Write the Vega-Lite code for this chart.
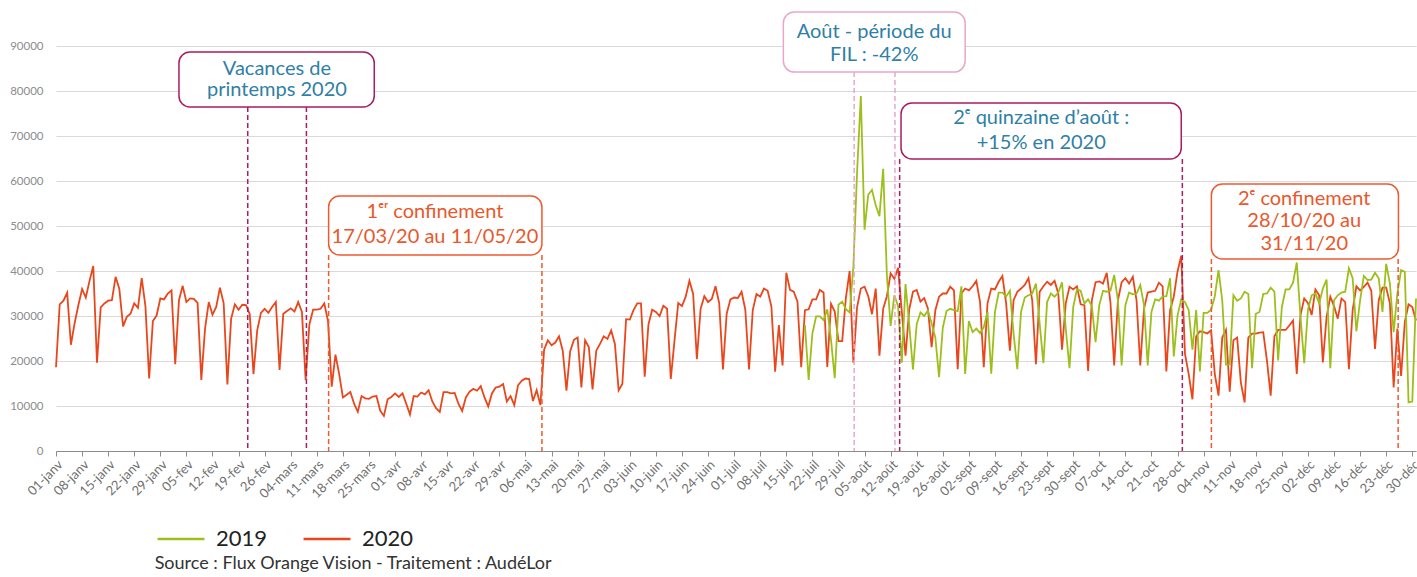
{
  "$schema": "https://vega.github.io/schema/vega-lite/v6.json",
  "autosize": {"type": "none"},
  "width": 1360,
  "height": 450,
  "padding": {"left": 56, "top": 1, "right": 1, "bottom": 126},
  "background": "white",
  "config": {"view": {"stroke": null}, "font": "Lato"},
  "title": {"text": "Source : Flux Orange Vision - Traitement : AudéLor", "orient": "bottom", "anchor": "start", "dx": 145, "offset": 5, "fontSize": 18, "fontWeight": "normal", "color": "#333333", "font": "Lato"},
  "datasets": {
    "ann_boxes": [
      {"g": "vac", "x1": "2020/02/03 00:00", "x2": "2020/03/26 10:00", "y1": 88660, "y2": 76440},
      {"g": "conf", "x1": "2020/03/14 04:00", "x2": "2020/05/10 10:00", "y1": 56660, "y2": 43550},
      {"g": "fil", "x1": "2020/07/14 05:00", "x2": "2020/09/01 00:00", "y1": 97550, "y2": 84200},
      {"g": "quinz", "x1": "2020/08/14 19:00", "x2": "2020/10/29 00:00", "y1": 77330, "y2": 64880},
      {"g": "conf", "x1": "2020/11/06 02:00", "x2": "2020/12/26 07:00", "y1": 59330, "y2": 42660}
    ],
    "ann_rules": [
      {"g": "vac", "x": "2020/02/21 11:00", "top": 76440},
      {"g": "vac", "x": "2020/03/08 05:00", "top": 76440},
      {"g": "conf", "x": "2020/03/14 04:00", "top": 43550},
      {"g": "conf", "x": "2020/05/10 10:00", "top": 43550},
      {"g": "fil", "x": "2020/08/02 05:00", "top": 84200},
      {"g": "fil", "x": "2020/08/13 04:00", "top": 84200},
      {"g": "quinz", "x": "2020/08/14 10:00", "top": 64880},
      {"g": "quinz", "x": "2020/10/29 07:00", "top": 64880},
      {"g": "conf", "x": "2020/11/06 02:00", "top": 42660},
      {"g": "conf", "x": "2020/12/26 05:00", "top": 42660}
    ],
    "ann_texts": [
      {"g": "vac", "x": "2020/02/29 07:00", "y": 84900, "t": "Vacances de"},
      {"g": "vac", "x": "2020/02/29 07:00", "y": 80200, "t": "printemps 2020"},
      {"g": "conf", "x": "2020/04/11 17:00", "y": 53100, "t": "1ᵉʳ confinement"},
      {"g": "conf", "x": "2020/04/11 17:00", "y": 47600, "t": "17/03/20 au 11/05/20"},
      {"g": "fil", "x": "2020/08/07 14:00", "y": 93100, "t": "Août - période du"},
      {"g": "fil", "x": "2020/08/07 14:00", "y": 88000, "t": "FIL : -42%"},
      {"g": "quinz", "x": "2020/09/21 10:00", "y": 74000, "t": "2ᵉ quinzaine d’août :"},
      {"g": "quinz", "x": "2020/09/21 10:00", "y": 68500, "t": "+15% en 2020"},
      {"g": "conf", "x": "2020/12/01 00:00", "y": 56100, "t": "2ᵉ confinement"},
      {"g": "conf", "x": "2020/12/01 00:00", "y": 51100, "t": "28/10/20 au"},
      {"g": "conf", "x": "2020/12/01 00:00", "y": 46000, "t": "31/11/20"}
    ],
    "series": [
      {"date": "2020/01/01", "2020": 18600}, {"date": "2020/01/02", "2020": 32600}, {"date": "2020/01/03", "2020": 33400}, {"date": "2020/01/04", "2020": 35150}, {"date": "2020/01/05", "2020": 23600}, {"date": "2020/01/06", "2020": 28400}, {"date": "2020/01/07", "2020": 32400}, {"date": "2020/01/08", "2020": 36000}, {"date": "2020/01/09", "2020": 34100}, {"date": "2020/01/10", "2020": 37800}, {"date": "2020/01/11", "2020": 41100}, {"date": "2020/01/12", "2020": 19600}, {"date": "2020/01/13", "2020": 31900}, {"date": "2020/01/14", "2020": 32800}, {"date": "2020/01/15", "2020": 33400}, {"date": "2020/01/16", "2020": 33500}, {"date": "2020/01/17", "2020": 38700}, {"date": "2020/01/18", "2020": 36000}, {"date": "2020/01/19", "2020": 27700}, {"date": "2020/01/20", "2020": 29800}, {"date": "2020/01/21", "2020": 30500}, {"date": "2020/01/22", "2020": 32800}, {"date": "2020/01/23", "2020": 31800}, {"date": "2020/01/24", "2020": 38400}, {"date": "2020/01/25", "2020": 32200}, {"date": "2020/01/26", "2020": 16100}, {"date": "2020/01/27", "2020": 28900}, {"date": "2020/01/28", "2020": 30100}, {"date": "2020/01/29", "2020": 33900}, {"date": "2020/01/30", "2020": 33700}, {"date": "2020/01/31", "2020": 35000},
      {"date": "2020/02/01", "2020": 35700}, {"date": "2020/02/02", "2020": 19300}, {"date": "2020/02/03", "2020": 33500}, {"date": "2020/02/04", "2020": 36700}, {"date": "2020/02/05", "2020": 33100}, {"date": "2020/02/06", "2020": 33900}, {"date": "2020/02/07", "2020": 33800}, {"date": "2020/02/08", "2020": 32900}, {"date": "2020/02/09", "2020": 15800}, {"date": "2020/02/10", "2020": 27200}, {"date": "2020/02/11", "2020": 33100}, {"date": "2020/02/12", "2020": 30300}, {"date": "2020/02/13", "2020": 32000}, {"date": "2020/02/14", "2020": 36300}, {"date": "2020/02/15", "2020": 32800}, {"date": "2020/02/16", "2020": 14800}, {"date": "2020/02/17", "2020": 29400}, {"date": "2020/02/18", "2020": 32600}, {"date": "2020/02/19", "2020": 31400}, {"date": "2020/02/20", "2020": 32500}, {"date": "2020/02/21", "2020": 32400}, {"date": "2020/02/22", "2020": 30400}, {"date": "2020/02/23", "2020": 17100}, {"date": "2020/02/24", "2020": 26800}, {"date": "2020/02/25", "2020": 30700}, {"date": "2020/02/26", "2020": 31600}, {"date": "2020/02/27", "2020": 30700}, {"date": "2020/02/28", "2020": 32000}, {"date": "2020/02/29", "2020": 33100},
      {"date": "2020/03/01", "2020": 18000}, {"date": "2020/03/02", "2020": 30500}, {"date": "2020/03/03", "2020": 31100}, {"date": "2020/03/04", "2020": 31700}, {"date": "2020/03/05", "2020": 31000}, {"date": "2020/03/06", "2020": 33100}, {"date": "2020/03/07", "2020": 30900}, {"date": "2020/03/08", "2020": 15800}, {"date": "2020/03/09", "2020": 28100}, {"date": "2020/03/10", "2020": 31400}, {"date": "2020/03/11", "2020": 31400}, {"date": "2020/03/12", "2020": 31600}, {"date": "2020/03/13", "2020": 32800}, {"date": "2020/03/14", "2020": 28900}, {"date": "2020/03/15", "2020": 14300}, {"date": "2020/03/16", "2020": 21400}, {"date": "2020/03/17", "2020": 17100}, {"date": "2020/03/18", "2020": 11900}, {"date": "2020/03/19", "2020": 12500}, {"date": "2020/03/20", "2020": 13100}, {"date": "2020/03/21", "2020": 10500}, {"date": "2020/03/22", "2020": 8700}, {"date": "2020/03/23", "2020": 12200}, {"date": "2020/03/24", "2020": 11700}, {"date": "2020/03/25", "2020": 11600}, {"date": "2020/03/26", "2020": 12100}, {"date": "2020/03/27", "2020": 12200}, {"date": "2020/03/28", "2020": 9000}, {"date": "2020/03/29", "2020": 7800}, {"date": "2020/03/30", "2020": 11500}, {"date": "2020/03/31", "2020": 12000},
      {"date": "2020/04/01", "2020": 12800}, {"date": "2020/04/02", "2020": 12000}, {"date": "2020/04/03", "2020": 12800}, {"date": "2020/04/04", "2020": 10500}, {"date": "2020/04/05", "2020": 8100}, {"date": "2020/04/06", "2020": 12200}, {"date": "2020/04/07", "2020": 12100}, {"date": "2020/04/08", "2020": 13000}, {"date": "2020/04/09", "2020": 12600}, {"date": "2020/04/10", "2020": 13500}, {"date": "2020/04/11", "2020": 11000}, {"date": "2020/04/12", "2020": 9500}, {"date": "2020/04/13", "2020": 8700}, {"date": "2020/04/14", "2020": 13100}, {"date": "2020/04/15", "2020": 13100}, {"date": "2020/04/16", "2020": 12800}, {"date": "2020/04/17", "2020": 12900}, {"date": "2020/04/18", "2020": 10500}, {"date": "2020/04/19", "2020": 8900}, {"date": "2020/04/20", "2020": 11900}, {"date": "2020/04/21", "2020": 13200}, {"date": "2020/04/22", "2020": 13800}, {"date": "2020/04/23", "2020": 13400}, {"date": "2020/04/24", "2020": 14400}, {"date": "2020/04/25", "2020": 11900}, {"date": "2020/04/26", "2020": 9900}, {"date": "2020/04/27", "2020": 12800}, {"date": "2020/04/28", "2020": 14100}, {"date": "2020/04/29", "2020": 14300}, {"date": "2020/04/30", "2020": 14900},
      {"date": "2020/05/01", "2020": 11000}, {"date": "2020/05/02", "2020": 12200}, {"date": "2020/05/03", "2020": 10200}, {"date": "2020/05/04", "2020": 14600}, {"date": "2020/05/05", "2020": 15600}, {"date": "2020/05/06", "2020": 16100}, {"date": "2020/05/07", "2020": 16000}, {"date": "2020/05/08", "2020": 11100}, {"date": "2020/05/09", "2020": 13500}, {"date": "2020/05/10", "2020": 10200}, {"date": "2020/05/11", "2020": 22500}, {"date": "2020/05/12", "2020": 24600}, {"date": "2020/05/13", "2020": 23500}, {"date": "2020/05/14", "2020": 24100}, {"date": "2020/05/15", "2020": 25500}, {"date": "2020/05/16", "2020": 22300}, {"date": "2020/05/17", "2020": 13400}, {"date": "2020/05/18", "2020": 22200}, {"date": "2020/05/19", "2020": 24700}, {"date": "2020/05/20", "2020": 25200}, {"date": "2020/05/21", "2020": 14100}, {"date": "2020/05/22", "2020": 24600}, {"date": "2020/05/23", "2020": 23100}, {"date": "2020/05/24", "2020": 13700}, {"date": "2020/05/25", "2020": 22300}, {"date": "2020/05/26", "2020": 23800}, {"date": "2020/05/27", "2020": 25500}, {"date": "2020/05/28", "2020": 24900}, {"date": "2020/05/29", "2020": 26800}, {"date": "2020/05/30", "2020": 23800}, {"date": "2020/05/31", "2020": 13500},
      {"date": "2020/06/01", "2020": 14900}, {"date": "2020/06/02", "2020": 29300}, {"date": "2020/06/03", "2020": 29200}, {"date": "2020/06/04", "2020": 31300}, {"date": "2020/06/05", "2020": 32800}, {"date": "2020/06/06", "2020": 32800}, {"date": "2020/06/07", "2020": 16500}, {"date": "2020/06/08", "2020": 28100}, {"date": "2020/06/09", "2020": 31400}, {"date": "2020/06/10", "2020": 30900}, {"date": "2020/06/11", "2020": 30000}, {"date": "2020/06/12", "2020": 32300}, {"date": "2020/06/13", "2020": 31600}, {"date": "2020/06/14", "2020": 16000}, {"date": "2020/06/15", "2020": 24600}, {"date": "2020/06/16", "2020": 32900}, {"date": "2020/06/17", "2020": 32200}, {"date": "2020/06/18", "2020": 34300}, {"date": "2020/06/19", "2020": 37800}, {"date": "2020/06/20", "2020": 34900}, {"date": "2020/06/21", "2020": 20400}, {"date": "2020/06/22", "2020": 31600}, {"date": "2020/06/23", "2020": 34400}, {"date": "2020/06/24", "2020": 33100}, {"date": "2020/06/25", "2020": 33800}, {"date": "2020/06/26", "2020": 36600}, {"date": "2020/06/27", "2020": 32800}, {"date": "2020/06/28", "2020": 18100}, {"date": "2020/06/29", "2020": 30500}, {"date": "2020/06/30", "2020": 33700},
      {"date": "2020/07/01", "2020": 34100}, {"date": "2020/07/02", "2020": 34000}, {"date": "2020/07/03", "2020": 35400}, {"date": "2020/07/04", "2020": 31400}, {"date": "2020/07/05", "2020": 18100}, {"date": "2020/07/06", "2020": 31300}, {"date": "2020/07/07", "2020": 34900}, {"date": "2020/07/08", "2020": 34300}, {"date": "2020/07/09", "2020": 36100}, {"date": "2020/07/10", "2020": 35600}, {"date": "2020/07/11", "2020": 32100}, {"date": "2020/07/12", "2020": 17600}, {"date": "2020/07/13", "2020": 28000}, {"date": "2020/07/14", "2020": 19000}, {"date": "2020/07/15", "2020": 39600}, {"date": "2020/07/16", "2020": 35800}, {"date": "2020/07/17", "2020": 35400}, {"date": "2020/07/18", "2020": 33200}, {"date": "2020/07/19", "2020": 18600},
      {"date": "2020/07/20", "2020": 31300, "2019": 28000}, {"date": "2020/07/21", "2020": 31500, "2019": 15800}, {"date": "2020/07/22", "2020": 33700, "2019": 26100}, {"date": "2020/07/23", "2020": 33700, "2019": 29900}, {"date": "2020/07/24", "2020": 35800, "2019": 29900}, {"date": "2020/07/25", "2020": 35200, "2019": 29100}, {"date": "2020/07/26", "2020": 18700, "2019": 31500}, {"date": "2020/07/27", "2020": 32700, "2019": 24700}, {"date": "2020/07/28", "2020": 31000, "2019": 16200}, {"date": "2020/07/29", "2020": 24400, "2019": 32500}, {"date": "2020/07/30", "2020": 24400, "2019": 33200}, {"date": "2020/07/31", "2020": 34100, "2019": 31500},
      {"date": "2020/08/01", "2020": 40000, "2019": 30800}, {"date": "2020/08/02", "2020": 19600, "2019": 41000}, {"date": "2020/08/03", "2020": 32000, "2019": 62000}, {"date": "2020/08/04", "2020": 36100, "2019": 78900}, {"date": "2020/08/05", "2020": 36500, "2019": 49200}, {"date": "2020/08/06", "2020": 34400, "2019": 57000}, {"date": "2020/08/07", "2020": 30400, "2019": 58000}, {"date": "2020/08/08", "2020": 36100, "2019": 54600}, {"date": "2020/08/09", "2020": 21200, "2019": 52200}, {"date": "2020/08/10", "2020": 31600, "2019": 62700}, {"date": "2020/08/11", "2020": 34400, "2019": 38900}, {"date": "2020/08/12", "2020": 39500, "2019": 27800}, {"date": "2020/08/13", "2020": 38300, "2019": 34600}, {"date": "2020/08/14", "2020": 40700, "2019": 32200}, {"date": "2020/08/15", "2020": 31000, "2019": 19600}, {"date": "2020/08/16", "2020": 21200, "2019": 37100}, {"date": "2020/08/17", "2020": 31500, "2019": 28000}, {"date": "2020/08/18", "2020": 35400, "2019": 18100}, {"date": "2020/08/19", "2020": 35800, "2019": 28200}, {"date": "2020/08/20", "2020": 33200, "2019": 30800}, {"date": "2020/08/21", "2020": 34000, "2019": 30000}, {"date": "2020/08/22", "2020": 31700, "2019": 31200}, {"date": "2020/08/23", "2020": 23100, "2019": 28400}, {"date": "2020/08/24", "2020": 31300, "2019": 25200}, {"date": "2020/08/25", "2020": 34300, "2019": 16400}, {"date": "2020/08/26", "2020": 35000, "2019": 27400}, {"date": "2020/08/27", "2020": 35000, "2019": 31100}, {"date": "2020/08/28", "2020": 36500, "2019": 31600}, {"date": "2020/08/29", "2020": 35700, "2019": 31300}, {"date": "2020/08/30", "2020": 18200, "2019": 31100}, {"date": "2020/08/31", "2020": 35000, "2019": 36600},
      {"date": "2020/09/01", "2020": 36100, "2019": 17100}, {"date": "2020/09/02", "2020": 35700, "2019": 28900}, {"date": "2020/09/03", "2020": 36600, "2019": 26400}, {"date": "2020/09/04", "2020": 37800, "2019": 27200}, {"date": "2020/09/05", "2020": 33100, "2019": 26200}, {"date": "2020/09/06", "2020": 18600, "2019": 27500}, {"date": "2020/09/07", "2020": 32800, "2019": 30900}, {"date": "2020/09/08", "2020": 36100, "2019": 17200}, {"date": "2020/09/09", "2020": 35900, "2019": 30900}, {"date": "2020/09/10", "2020": 37600, "2019": 35200}, {"date": "2020/09/11", "2020": 38900, "2019": 35200}, {"date": "2020/09/12", "2020": 32800, "2019": 34300}, {"date": "2020/09/13", "2020": 22300, "2019": 35600}, {"date": "2020/09/14", "2020": 33500, "2019": 26100}, {"date": "2020/09/15", "2020": 35400, "2019": 18200}, {"date": "2020/09/16", "2020": 36100, "2019": 30900}, {"date": "2020/09/17", "2020": 36900, "2019": 34100}, {"date": "2020/09/18", "2020": 38400, "2019": 34600}, {"date": "2020/09/19", "2020": 33500, "2019": 35000}, {"date": "2020/09/20", "2020": 19300, "2019": 37200}, {"date": "2020/09/21", "2020": 35400, "2019": 28300}, {"date": "2020/09/22", "2020": 36600, "2019": 19500}, {"date": "2020/09/23", "2020": 37600, "2019": 33100}, {"date": "2020/09/24", "2020": 36900, "2019": 35000}, {"date": "2020/09/25", "2020": 37800, "2019": 34300}, {"date": "2020/09/26", "2020": 35000, "2019": 35200}, {"date": "2020/09/27", "2020": 22500, "2019": 37500}, {"date": "2020/09/28", "2020": 32800, "2019": 27200}, {"date": "2020/09/29", "2020": 36500, "2019": 18400}, {"date": "2020/09/30", "2020": 35900, "2019": 32000},
      {"date": "2020/10/01", "2020": 36600, "2019": 35900}, {"date": "2020/10/02", "2020": 32600, "2019": 35600}, {"date": "2020/10/03", "2020": 32400, "2019": 32800}, {"date": "2020/10/04", "2020": 17800, "2019": 33700}, {"date": "2020/10/05", "2020": 33500, "2019": 32200}, {"date": "2020/10/06", "2020": 37500, "2019": 24200}, {"date": "2020/10/07", "2020": 37700, "2019": 32400}, {"date": "2020/10/08", "2020": 37200, "2019": 35600}, {"date": "2020/10/09", "2020": 39600, "2019": 35400}, {"date": "2020/10/10", "2020": 33000, "2019": 35600}, {"date": "2020/10/11", "2020": 19000, "2019": 39100}, {"date": "2020/10/12", "2020": 33500, "2019": 33500}, {"date": "2020/10/13", "2020": 37500, "2019": 19000}, {"date": "2020/10/14", "2020": 38400, "2019": 32400}, {"date": "2020/10/15", "2020": 37200, "2019": 35200}, {"date": "2020/10/16", "2020": 38700, "2019": 34800}, {"date": "2020/10/17", "2020": 33500, "2019": 35000}, {"date": "2020/10/18", "2020": 19000, "2019": 36900}, {"date": "2020/10/19", "2020": 31600, "2019": 32400}, {"date": "2020/10/20", "2020": 35200, "2019": 19000}, {"date": "2020/10/21", "2020": 35400, "2019": 30900}, {"date": "2020/10/22", "2020": 35600, "2019": 33700}, {"date": "2020/10/23", "2020": 37400, "2019": 33400}, {"date": "2020/10/24", "2020": 36600, "2019": 34300}, {"date": "2020/10/25", "2020": 17700, "2019": 34400}, {"date": "2020/10/26", "2020": 31300, "2019": 38400}, {"date": "2020/10/27", "2020": 34300, "2019": 21000}, {"date": "2020/10/28", "2020": 39900, "2019": 30100}, {"date": "2020/10/29", "2020": 43400, "2019": 33700}, {"date": "2020/10/30", "2020": 21600, "2019": 33100}, {"date": "2020/10/31", "2020": 17100, "2019": 31300},
      {"date": "2020/11/01", "2020": 11500, "2019": 22500}, {"date": "2020/11/02", "2020": 25500, "2019": 31300}, {"date": "2020/11/03", "2020": 26600, "2019": 17700}, {"date": "2020/11/04", "2020": 26400, "2019": 30700}, {"date": "2020/11/05", "2020": 26100, "2019": 30700}, {"date": "2020/11/06", "2020": 26800, "2019": 31400}, {"date": "2020/11/07", "2020": 17100, "2019": 34400}, {"date": "2020/11/08", "2020": 12300, "2019": 40200}, {"date": "2020/11/09", "2020": 25200, "2019": 33500}, {"date": "2020/11/10", "2020": 26900, "2019": 19200}, {"date": "2020/11/11", "2020": 13200, "2019": 19200}, {"date": "2020/11/12", "2020": 24600, "2019": 34600}, {"date": "2020/11/13", "2020": 25200, "2019": 33400}, {"date": "2020/11/14", "2020": 15200, "2019": 33900}, {"date": "2020/11/15", "2020": 10800, "2019": 35400}, {"date": "2020/11/16", "2020": 25200, "2019": 34900}, {"date": "2020/11/17", "2020": 26100, "2019": 18400}, {"date": "2020/11/18", "2020": 26100, "2019": 30500}, {"date": "2020/11/19", "2020": 26300, "2019": 30900}, {"date": "2020/11/20", "2020": 26400, "2019": 34900}, {"date": "2020/11/21", "2020": 20100, "2019": 35000}, {"date": "2020/11/22", "2020": 12300, "2019": 36300}, {"date": "2020/11/23", "2020": 25500, "2019": 35400}, {"date": "2020/11/24", "2020": 26900, "2019": 20100}, {"date": "2020/11/25", "2020": 26900, "2019": 32000}, {"date": "2020/11/26", "2020": 26900, "2019": 35900}, {"date": "2020/11/27", "2020": 27900, "2019": 35900}, {"date": "2020/11/28", "2020": 29000, "2019": 37400}, {"date": "2020/11/29", "2020": 17100, "2019": 41900}, {"date": "2020/11/30", "2020": 30200, "2019": 29800},
      {"date": "2020/12/01", "2020": 33900, "2019": 19500}, {"date": "2020/12/02", "2020": 32900, "2019": 31400}, {"date": "2020/12/03", "2020": 30200, "2019": 34600}, {"date": "2020/12/04", "2020": 35900, "2019": 35000}, {"date": "2020/12/05", "2020": 34600, "2019": 32800}, {"date": "2020/12/06", "2020": 19700, "2019": 36100}, {"date": "2020/12/07", "2020": 29800, "2019": 38100}, {"date": "2020/12/08", "2020": 34300, "2019": 18400}, {"date": "2020/12/09", "2020": 32200, "2019": 33500}, {"date": "2020/12/10", "2020": 29400, "2019": 34600}, {"date": "2020/12/11", "2020": 33900, "2019": 35200}, {"date": "2020/12/12", "2020": 33100, "2019": 35400}, {"date": "2020/12/13", "2020": 18200, "2019": 40600}, {"date": "2020/12/14", "2020": 31300, "2019": 38400}, {"date": "2020/12/15", "2020": 36600, "2019": 26600}, {"date": "2020/12/16", "2020": 35700, "2019": 33500}, {"date": "2020/12/17", "2020": 36500, "2019": 38900}, {"date": "2020/12/18", "2020": 37400, "2019": 38000}, {"date": "2020/12/19", "2020": 35600, "2019": 38100}, {"date": "2020/12/20", "2020": 22700, "2019": 39600}, {"date": "2020/12/21", "2020": 33500, "2019": 38400}, {"date": "2020/12/22", "2020": 36300, "2019": 30900}, {"date": "2020/12/23", "2020": 36300, "2019": 41600}, {"date": "2020/12/24", "2020": 32800, "2019": 37200}, {"date": "2020/12/25", "2020": 14100, "2019": 26400}, {"date": "2020/12/26", "2020": 27200, "2019": 35000}, {"date": "2020/12/27", "2020": 16700, "2019": 40200}, {"date": "2020/12/28", "2020": 28700, "2019": 39800}, {"date": "2020/12/29", "2020": 32600, "2019": 10800}, {"date": "2020/12/30", "2020": 32000, "2019": 11000}, {"date": "2020/12/31", "2020": 29000, "2019": 33900}
    ]
  },
  "layer": [
    {
      "data": {"name": "series"},
      "transform": [
        {"fold": ["2019", "2020"], "as": ["serie", "v"]},
        {"filter": "isValid(datum.v)"}
      ],
      "mark": {"type": "line", "strokeWidth": 1.8, "strokeJoin": "miter"},
      "encoding": {
        "x": {
          "field": "date", "type": "temporal",
          "scale": {"domain": [{"year": 2020, "month": 1, "date": 1}, {"year": 2020, "month": 12, "date": 31}]},
          "axis": {
            "title": null, "grid": false, "domainColor": "#8c8c8c", "tickColor": "#8c8c8c", "tickSize": 5,
            "labelAngle": -45, "labelFontSize": 13, "labelColor": "#6f6f6f", "labelFont": "Lato", "labelPadding": 2,
            "labelOverlap": false, "labelBound": false, "tickCount": 100,
            "values": [
              {"year": 2020, "month": 1, "date": 1}, {"year": 2020, "month": 1, "date": 8}, {"year": 2020, "month": 1, "date": 15}, {"year": 2020, "month": 1, "date": 22}, {"year": 2020, "month": 1, "date": 29},
              {"year": 2020, "month": 2, "date": 5}, {"year": 2020, "month": 2, "date": 12}, {"year": 2020, "month": 2, "date": 19}, {"year": 2020, "month": 2, "date": 26},
              {"year": 2020, "month": 3, "date": 4}, {"year": 2020, "month": 3, "date": 11}, {"year": 2020, "month": 3, "date": 18}, {"year": 2020, "month": 3, "date": 25},
              {"year": 2020, "month": 4, "date": 1}, {"year": 2020, "month": 4, "date": 8}, {"year": 2020, "month": 4, "date": 15}, {"year": 2020, "month": 4, "date": 22}, {"year": 2020, "month": 4, "date": 29},
              {"year": 2020, "month": 5, "date": 6}, {"year": 2020, "month": 5, "date": 13}, {"year": 2020, "month": 5, "date": 20}, {"year": 2020, "month": 5, "date": 27},
              {"year": 2020, "month": 6, "date": 3}, {"year": 2020, "month": 6, "date": 10}, {"year": 2020, "month": 6, "date": 17}, {"year": 2020, "month": 6, "date": 24},
              {"year": 2020, "month": 7, "date": 1}, {"year": 2020, "month": 7, "date": 8}, {"year": 2020, "month": 7, "date": 15}, {"year": 2020, "month": 7, "date": 22}, {"year": 2020, "month": 7, "date": 29},
              {"year": 2020, "month": 8, "date": 5}, {"year": 2020, "month": 8, "date": 12}, {"year": 2020, "month": 8, "date": 19}, {"year": 2020, "month": 8, "date": 26},
              {"year": 2020, "month": 9, "date": 2}, {"year": 2020, "month": 9, "date": 9}, {"year": 2020, "month": 9, "date": 16}, {"year": 2020, "month": 9, "date": 23}, {"year": 2020, "month": 9, "date": 30},
              {"year": 2020, "month": 10, "date": 7}, {"year": 2020, "month": 10, "date": 14}, {"year": 2020, "month": 10, "date": 21}, {"year": 2020, "month": 10, "date": 28},
              {"year": 2020, "month": 11, "date": 4}, {"year": 2020, "month": 11, "date": 11}, {"year": 2020, "month": 11, "date": 18}, {"year": 2020, "month": 11, "date": 25},
              {"year": 2020, "month": 12, "date": 2}, {"year": 2020, "month": 12, "date": 9}, {"year": 2020, "month": 12, "date": 16}, {"year": 2020, "month": 12, "date": 23}, {"year": 2020, "month": 12, "date": 30}
            ],
            "labelExpr": "timeFormat(datum.value, '%d') + '-' + ['janv','fev','mars','avr','mai','juin','juil','août','sept','oct','nov','déc'][month(datum.value)]"
          }
        },
        "y": {
          "field": "v", "type": "quantitative",
          "scale": {"domain": [0, 100000], "nice": false},
          "axis": {
            "title": null, "values": [0, 10000, 20000, 30000, 40000, 50000, 60000, 70000, 80000, 90000],
            "format": "d", "domain": false, "ticks": false, "gridColor": "#d9d9d9", "gridWidth": 1,
            "labelFontSize": 11.5, "labelColor": "#8c8c8c", "labelPadding": 13, "labelFont": "Lato"
          }
        },
        "color": {
          "field": "serie", "type": "nominal",
          "scale": {"domain": ["2019", "2020"], "range": ["#9dbf1b", "#e9461c"]},
          "legend": {
            "title": null, "orient": "none", "legendX": 100, "legendY": 513, "direction": "horizontal",
            "symbolType": "stroke", "symbolSize": 2200, "symbolStrokeWidth": 2.5,
            "labelFontSize": 22, "labelColor": "#222222", "labelFont": "Lato", "labelOffset": 10, "columnPadding": 30
          }
        }
      }
    },
    {
      "data": {"name": "ann_rules"},
      "mark": {"type": "rule", "strokeDash": [5, 3], "strokeWidth": 1.5},
      "encoding": {
        "x": {"field": "x", "type": "temporal"},
        "y": {"field": "top", "type": "quantitative"},
        "y2": {"datum": 0},
        "stroke": {"field": "g", "type": "nominal", "scale": {"domain": ["vac", "conf", "fil", "quinz"], "range": ["#a81c62", "#ee5a2e", "#eaa6c9", "#a81c62"]}, "legend": null}
      }
    },
    {
      "data": {"name": "ann_boxes"},
      "mark": {"type": "rect", "fill": "white", "cornerRadius": 11, "strokeWidth": 1.5},
      "encoding": {
        "x": {"field": "x1", "type": "temporal"},
        "x2": {"field": "x2"},
        "y": {"field": "y1", "type": "quantitative"},
        "y2": {"field": "y2"},
        "stroke": {"field": "g", "type": "nominal", "legend": null}
      }
    },
    {
      "data": {"name": "ann_texts"},
      "mark": {"type": "text", "fontSize": 20, "font": "Lato", "align": "center", "baseline": "middle"},
      "encoding": {
        "x": {"field": "x", "type": "temporal"},
        "y": {"field": "y", "type": "quantitative"},
        "text": {"field": "t"},
        "fill": {"field": "g", "type": "nominal", "scale": {"domain": ["vac", "conf", "fil", "quinz"], "range": ["#2f7fa6", "#e9572b", "#2f7fa6", "#2f7fa6"]}, "legend": null}
      }
    }
  ]
}
